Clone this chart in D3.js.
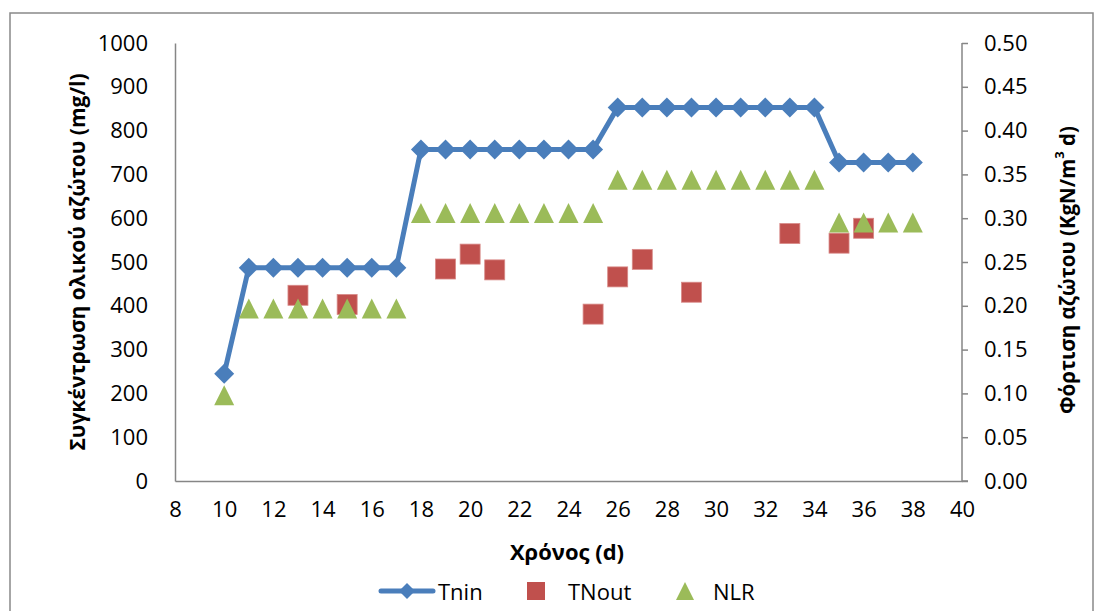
<!DOCTYPE html>
<html>
<head>
<meta charset="utf-8">
<script src="https://cdn.jsdelivr.net/npm/d3@7"></script>
<style>
  body { margin: 0; background: #fff; }
  svg text { font-family: "Open Sans", "DejaVu Sans", sans-serif; fill: #000; }
</style>
</head>
<body>
<script>
// data
var tninDays = [10, 11, 12, 13, 14, 15, 16, 17, 18, 19, 20, 21, 22, 23, 24, 25, 26, 27, 28, 29, 30, 31, 32, 33, 34, 35, 36, 37, 38];
var tninValues = [245, 487, 487, 487, 487, 487, 487, 487, 757, 757, 757, 757, 757, 757, 757, 757, 853, 853, 853, 853, 853, 853, 853, 853, 853, 727, 727, 727, 727];

var tnoutDays = [13, 15, 19, 20, 21, 25, 26, 27, 29, 33, 35, 36];
var tnoutValues = [424, 403, 484, 518, 482, 381, 466, 506, 431, 565, 543, 577];

var nlrDays = tninDays;
var nlrValues = [0.098, 0.197, 0.197, 0.197, 0.197, 0.197, 0.197, 0.197, 0.306, 0.306, 0.306, 0.306, 0.306, 0.306, 0.306, 0.306, 0.344, 0.344, 0.344, 0.344, 0.344, 0.344, 0.344, 0.344, 0.344, 0.295, 0.295, 0.295, 0.295];

var xTicks = d3.range(8, 41, 2);
var yLeftTicks = d3.range(0, 1001, 100);
var yRightTicks = d3.range(0, 0.501, 0.05);

var blue = "#4a7ebb", red = "#c0504d", green = "#9bbb59", axisGrey = "#868686";

var width = 1105, height = 611;
var margin = {top: 43, right: 143, bottom: 130, left: 175};

var svg = d3.select("body").append("svg")
    .attr("width", width).attr("height", height);

// outer chart frame
svg.append("rect")
    .attr("x", 10).attr("y", 13)
    .attr("width", 1083).attr("height", 620)
    .attr("fill", "none").attr("stroke", "#898989").attr("stroke-width", 1.5);

var x = d3.scaleLinear().domain([8, 40]).range([margin.left, width - margin.right]);
var y = d3.scaleLinear().domain([0, 1000]).range([height - margin.bottom, margin.top]);
var y2 = d3.scaleLinear().domain([0, 0.5]).range([height - margin.bottom, margin.top]);

// axes
var xAxis = svg.append("g").attr("transform", "translate(0," + y(0) + ")")
    .call(d3.axisBottom(x).tickValues(xTicks).tickSize(0).tickPadding(20));
var yAxis = svg.append("g").attr("transform", "translate(" + x(8) + ",0)")
    .call(d3.axisLeft(y).tickValues(yLeftTicks).tickSize(0).tickPadding(27).tickFormat(d3.format("d")));
var yAxis2 = svg.append("g").attr("transform", "translate(" + x(40) + ",0)")
    .call(d3.axisRight(y2).tickValues(yRightTicks).tickSize(6).tickPadding(16).tickFormat(d3.format(".2f")));

[xAxis, yAxis, yAxis2].forEach(function(a) {
    a.select(".domain").attr("stroke", axisGrey).attr("stroke-width", 1.5);
    a.selectAll(".tick line").attr("stroke", axisGrey).attr("stroke-width", 1.5);
    a.selectAll(".tick text").attr("font-size", 22).attr("fill", "#000");
});
yAxis2.select(".domain").attr("d", "M0," + y2(0.5) + "V" + y2(0));
yAxis2.selectAll(".tick text").attr("x", 22);
svg.append("line")
    .attr("x1", x(40)).attr("x2", x(40) + 6)
    .attr("y1", y(0)).attr("y2", y(0))
    .attr("stroke", axisGrey).attr("stroke-width", 1.5);

// axis titles
svg.append("text")
    .attr("transform", "translate(" + 77 + "," + ((y(0) + y(1000)) / 2) + ")rotate(-90)")
    .attr("text-anchor", "middle").attr("dominant-baseline", "central")
    .attr("font-size", 21).attr("font-weight", "bold")
    .text("Συγκέντρωση ολικού αζώτου (mg/l)");

var rTitle = svg.append("text")
    .attr("transform", "translate(" + 1067 + "," + 270 + ")rotate(-90)")
    .attr("text-anchor", "middle").attr("dominant-baseline", "central")
    .attr("font-size", 20.5).attr("font-weight", "bold");
rTitle.append("tspan").text("Φόρτιση αζώτου (KgN/m");
rTitle.append("tspan").attr("font-size", 13).attr("dy", -8).text("3");
rTitle.append("tspan").attr("dy", 8).text(" d)");

svg.append("text")
    .attr("x", 567).attr("y", 551)
    .attr("text-anchor", "middle").attr("dominant-baseline", "central")
    .attr("font-size", 22).attr("font-weight", "bold")
    .text("Χρόνος (d)");

// Tnin line + diamonds
var tnin = tninDays.map(function(d, i) { return {day: d, v: tninValues[i]}; });
svg.append("path").datum(tnin)
    .attr("fill", "none").attr("stroke", blue).attr("stroke-width", 5)
    .attr("stroke-linejoin", "round")
    .attr("d", d3.line().x(function(d) { return x(d.day); }).y(function(d) { return y(d.v); }));
svg.selectAll(".diamond").data(tnin).enter().append("path")
    .attr("class", "diamond")
    .attr("transform", function(d) { return "translate(" + x(d.day) + "," + y(d.v) + ")"; })
    .attr("d", "M0,-10L10,0L0,10L-10,0Z")
    .attr("fill", blue);

// TNout squares
var tnout = tnoutDays.map(function(d, i) { return {day: d, v: tnoutValues[i]}; });
svg.selectAll(".sq").data(tnout).enter().append("rect")
    .attr("class", "sq")
    .attr("x", function(d) { return x(d.day) - 10; })
    .attr("y", function(d) { return y(d.v) - 10; })
    .attr("width", 20).attr("height", 20)
    .attr("fill", red).attr("stroke", "#d88a88").attr("stroke-width", 0.8);

// NLR triangles (right axis)
var nlr = nlrDays.map(function(d, i) { return {day: d, v: nlrValues[i]}; });
svg.selectAll(".tri").data(nlr).enter().append("path")
    .attr("class", "tri")
    .attr("transform", function(d) { return "translate(" + x(d.day) + "," + y2(d.v) + ")"; })
    .attr("d", "M0,-10L10,10L-10,10Z")
    .attr("fill", green);

// legend
var ly = 591;
var legend = svg.append("g");
legend.append("line").attr("x1", 381).attr("x2", 433).attr("y1", ly).attr("y2", ly)
    .attr("stroke", blue).attr("stroke-width", 5).attr("stroke-linecap", "round");
legend.append("path").attr("transform", "translate(407," + ly + ")")
    .attr("d", "M0,-8L8,0L0,8L-8,0Z").attr("fill", blue);
legend.append("text").attr("x", 438).attr("y", ly).attr("dominant-baseline", "central")
    .attr("font-size", 22).text("Tnin");
legend.append("rect").attr("x", 527).attr("y", ly - 9).attr("width", 18).attr("height", 18)
    .attr("fill", red);
legend.append("text").attr("x", 568).attr("y", ly).attr("dominant-baseline", "central")
    .attr("font-size", 22).text("TNout");
legend.append("path").attr("transform", "translate(685," + ly + ")")
    .attr("d", "M0,-9L9,9L-9,9Z").attr("fill", green);
legend.append("text").attr("x", 713).attr("y", ly).attr("dominant-baseline", "central")
    .attr("font-size", 22).text("NLR");
</script>
</body>
</html>
